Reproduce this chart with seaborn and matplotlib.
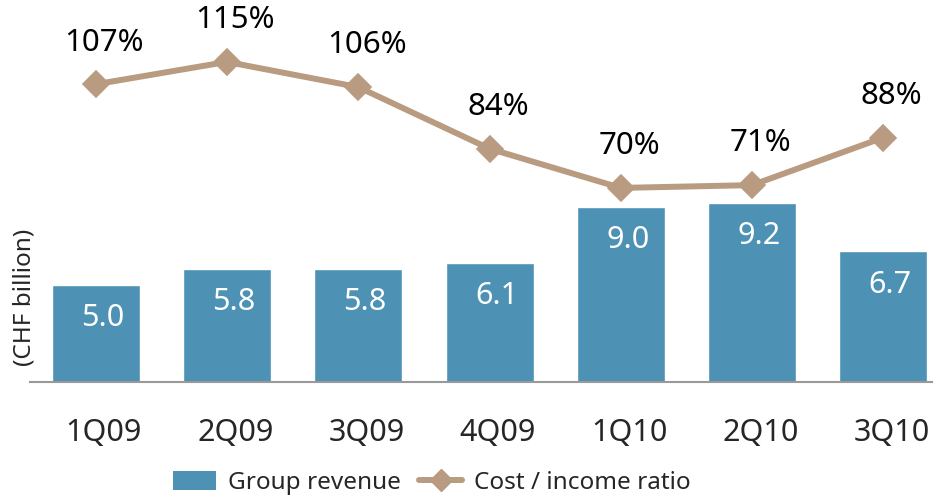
import numpy as np
import pandas as pd
import matplotlib
matplotlib.use("Agg")
import matplotlib.pyplot as plt
import matplotlib.transforms as mtransforms
from matplotlib.patches import Patch
from matplotlib.lines import Line2D
import seaborn as sns

# chart data
quarters = ["1Q09", "2Q09", "3Q09", "4Q09", "1Q10", "2Q10", "3Q10"]
revenue = [5.0, 5.8, 5.8, 6.1, 9.0, 9.2, 6.7]
cost_income = [107, 115, 106, 84, 70, 71, 88]

bar_color = "#4d91b5"
line_color = "#b89b80"

sns.set_theme(style="white")
plt.rcParams["font.family"] = ["Noto Sans", "DejaVu Sans"]

df = pd.DataFrame({"quarter": quarters, "revenue": revenue, "ratio": cost_income})

fig = plt.figure(figsize=(9.39, 5.0), dpi=100)
ax = fig.add_axes([30 / 939, 118 / 500, 902 / 939, 382 / 500])

sns.barplot(data=df, x="quarter", y="revenue", color=bar_color, width=0.67,
            saturation=1, ax=ax)
ax.set_ylim(0, 19.6)
ax.set_xlim(-0.5, 6.37)

# revenue labels inside the bars
for i, v in enumerate(revenue):
    ax.annotate(f"{v:.1f}", (i, v), xytext=(5, -24), textcoords="offset points",
                ha="center", va="center", color="white", fontsize=22)

# cost / income ratio on a second axis
ax2 = ax.twinx()
sns.pointplot(data=df, x="quarter", y="ratio", color=line_color, markers="D",
              linestyles="-", ax=ax2, markersize=11, linewidth=4.3)
ax2.set_ylim(0.7, 137.1)
ax2.set_xlim(-0.5, 6.37)
for i, v in enumerate(cost_income):
    ax2.annotate(f"{v}%", (i, v), xytext=(6, 30), textcoords="offset points",
                 ha="center", va="center", color="black", fontsize=22.5)

for a in (ax, ax2):
    for s in a.spines.values():
        s.set_visible(False)
    a.set_yticks([])
    a.set_ylabel("")
    a.set_xlabel("")
ax.spines["bottom"].set_visible(True)
ax.spines["bottom"].set_color("#999999")
ax.spines["bottom"].set_linewidth(1.5)

ax.set_xticks(range(len(quarters)))
ax.set_xticklabels(quarters, fontsize=22)
ax.tick_params(axis="x", length=0, pad=26)
ax2.tick_params(axis="x", length=0)
shift = mtransforms.ScaledTranslation(6 / 72, 0, fig.dpi_scale_trans)
for lab in ax.get_xticklabels():
    lab.set_transform(lab.get_transform() + shift)

fig.text(25 / 939, 1 - 297 / 500, "(CHF billion)", rotation=90, ha="center",
         va="center", fontsize=17.5)

handles = [
    Patch(facecolor=bar_color, edgecolor="none", label="Group revenue"),
    Line2D([], [], color=line_color, marker="D", markersize=11, linewidth=4.3,
           label="Cost / income ratio"),
]
fig.legend(handles=handles, loc="center", bbox_to_anchor=(432 / 939, 17 / 500),
           ncol=2, frameon=False, fontsize=17.5, handlelength=1.77, handleheight=0.82,
           handletextpad=0.5, columnspacing=0.74, borderaxespad=0, borderpad=0)

fig.savefig("out.png", dpi=100)
